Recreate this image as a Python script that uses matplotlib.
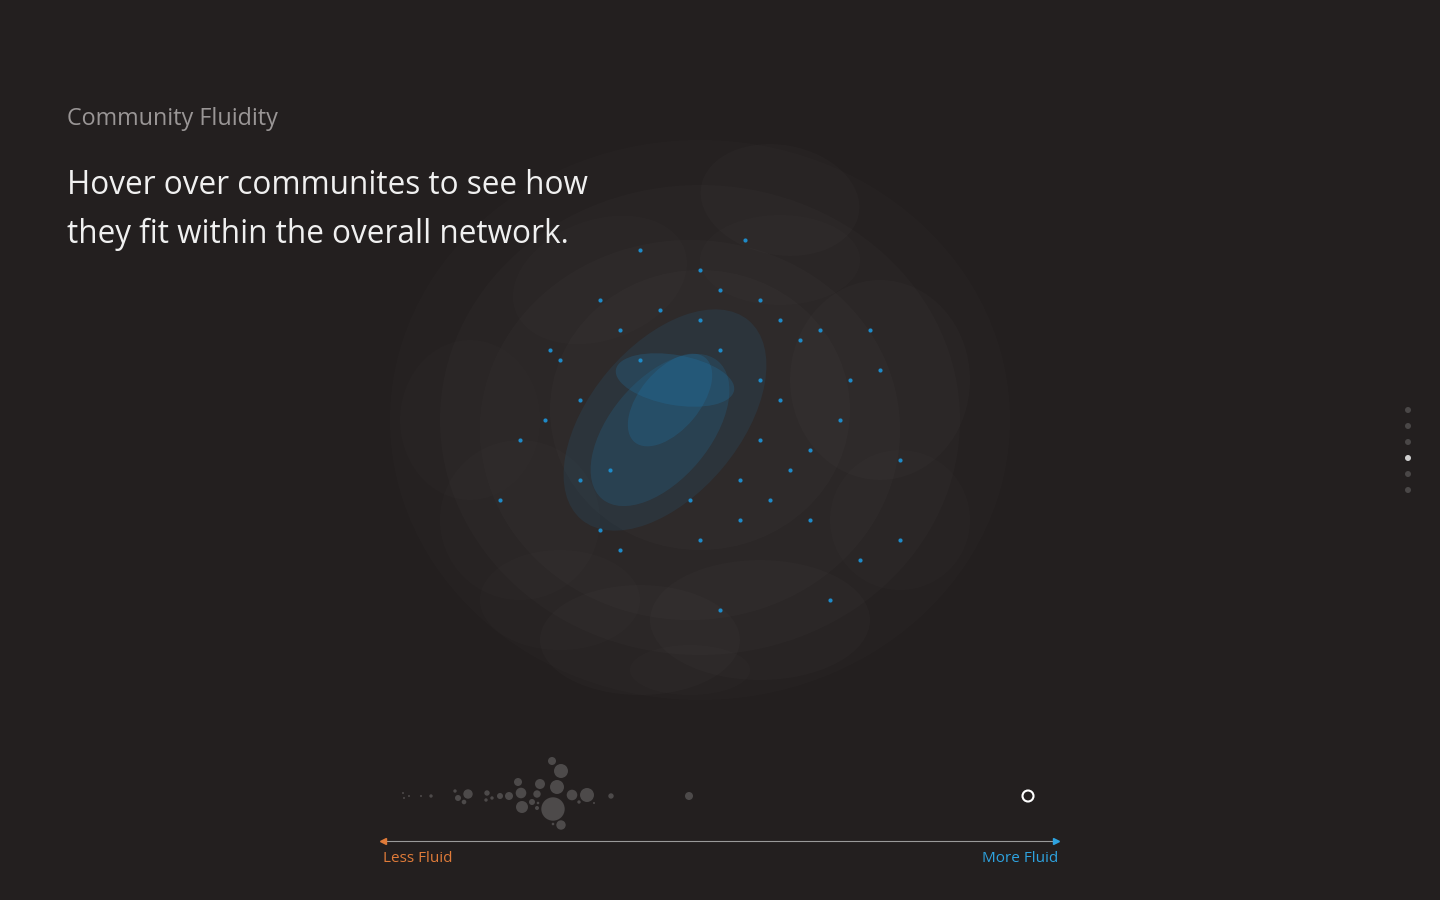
import matplotlib.pyplot as plt
from matplotlib.patches import Ellipse, Circle

BG = '#231f1f'

# soft blobs of the gray network cloud: x, y, width, height, angle, alpha
cloud_x = [700, 700, 690, 700, 780, 600, 760, 640, 520, 880, 900, 470, 780, 560, 690]
cloud_y = [420, 420, 430, 410, 200, 280, 620, 640, 520, 380, 520, 420, 260, 600, 670]
cloud_w = [620, 520, 420, 300, 160, 180, 220, 200, 160, 180, 140, 140, 160, 160, 120]
cloud_h = [560, 470, 380, 280, 110, 120, 120, 110, 160, 200, 140, 160, 90, 100, 50]
cloud_a = [0, 0, 0, 0, 10, -20, 0, 0, 0, 0, 0, 0, 0, 0, 0]
cloud_alpha = [0.04, 0.05, 0.06, 0.06, 0.05, 0.04, 0.05, 0.05, 0.04, 0.05, 0.04, 0.03, 0.04, 0.04, 0.04]

# blue highlighted community core
blue_x = [665, 660, 670, 675]
blue_y = [420, 430, 400, 380]
blue_w = [260, 180, 110, 50]
blue_h = [150, 100, 60, 120]
blue_a = [50, 50, 50, 80]
blue_alpha = [0.12, 0.18, 0.22, 0.22]

# scattered blue nodes
dots_x = [600, 640, 700, 720, 760, 780, 800, 820, 560, 545, 580, 600, 620, 700, 740, 770, 790,
          810, 840, 850, 880, 900, 620, 640, 660, 700, 720, 760, 780, 580, 520, 500, 690, 740, 810,
          860, 870, 900, 550, 610, 760, 830, 745, 720]
dots_y = [300, 250, 270, 290, 300, 320, 340, 330, 360, 420, 480, 530, 550, 540, 520, 500, 470,
          450, 420, 380, 370, 460, 330, 360, 310, 320, 350, 380, 400, 400, 440, 500, 500, 480, 520,
          560, 330, 540, 350, 470, 440, 600, 240, 610]

# bubble strip of communities: x, y, radius (px)
bub_x = [403, 404, 409, 421, 431, 455, 458, 464, 468, 487, 486, 492, 500, 509, 518, 521, 522,
         532, 537, 538, 537, 540, 552, 561, 557, 553, 561, 553, 572, 579, 587, 594, 611, 689]
bub_y = [793, 798, 796, 796, 796, 791, 798, 802, 794, 793, 800, 798, 796, 796, 782, 793, 807,
         802, 794, 803, 808, 784, 761, 771, 787, 809, 825, 824, 795, 802, 795, 803, 796, 796]
bub_r = [1, 1, 1, 1, 1.7, 1.7, 3, 2.3, 4.7, 2.7, 1.7, 1.7, 3, 4, 4, 5.3, 6, 3, 3.7, 1.3, 2,
         5, 4, 7, 7, 11.7, 4.7, 1.3, 5.3, 1.7, 7, 1, 2.7, 4]

pager_y = [410, 426, 442, 458, 474, 490]
active_page = 3

fig = plt.figure(figsize=(14.4, 9), dpi=100, facecolor=BG)
ax = fig.add_axes([0, 0, 1, 1])
ax.set_facecolor(BG)
ax.set_xlim(0, 1440)
ax.set_ylim(900, 0)
ax.axis('off')

for x, y, w, h, a, al in zip(cloud_x, cloud_y, cloud_w, cloud_h, cloud_a, cloud_alpha):
    ax.add_patch(Ellipse((x, y), w, h, angle=a, color='#6a6666', alpha=al, lw=0))
for x, y, w, h, a, al in zip(blue_x, blue_y, blue_w, blue_h, blue_a, blue_alpha):
    ax.add_patch(Ellipse((x, y), w, h, angle=-a, color='#1f7fb8', alpha=al, lw=0))
ax.scatter(dots_x, dots_y, s=9, color='#1e8ac8', lw=0)

for x, y, r in zip(bub_x, bub_y, bub_r):
    ax.add_patch(Circle((x, y), r, color='#4d4a4a', lw=0))
ax.add_patch(Circle((1028, 796), 5.5, fill=False, ec='white', lw=1.5))

# fluidity axis
ax.plot([386, 1053], [841, 841], color='#9a9a9a', lw=0.8)
ax.plot([383], [841], marker='<', color='#e07b39', ms=5)
ax.plot([1056], [841], marker='>', color='#2ea3e0', ms=5)
ax.text(383, 859, 'Less Fluid', color='#e07b39', fontsize=11, family='Open Sans', va='center')
ax.text(1058, 859, 'More Fluid', color='#2ea3e0', fontsize=11, family='Open Sans',
        va='center', ha='right')

for i, y in enumerate(pager_y):
    ax.add_patch(Circle((1408, y), 3, color='#cfcfcf' if i == active_page else '#4a4747', lw=0))

ax.text(67, 119, 'Community Fluidity', color='#9a9696', fontsize=16.8, family='Open Sans', va='center')
ax.text(67, 186, 'Hover over communites to see how', color='#f0f0f0', fontsize=22.7,
        family='Open Sans', va='center')
ax.text(67, 234, 'they fit within the overall network.', color='#f0f0f0', fontsize=22.7,
        family='Open Sans', va='center')

fig.savefig('out.png', dpi=100, facecolor=BG)
